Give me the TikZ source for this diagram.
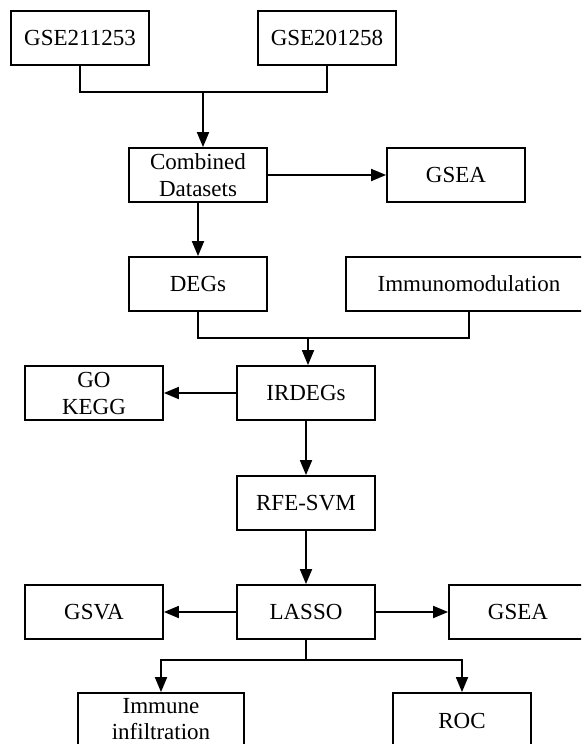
\documentclass[tikz,border=0pt]{standalone}
\usepackage{fontspec}
\setmainfont{Liberation Serif}
\usetikzlibrary{arrows.meta}
\begin{document}
\begin{tikzpicture}[x=1pt,y=-1pt,
  box/.style={draw,line width=1.8pt,minimum width=138pt,minimum height=54pt,inner sep=0pt,align=center,
    font=\fontsize{23}{27}\selectfont},
  conn/.style={line width=1.8pt},
  arr/.style={conn,-{Triangle[length=15pt,width=12pt]}}]
\useasboundingbox (0,0) rectangle (581,744);
\clip (0,0) rectangle (581,744);
\fill[white] (0,0) rectangle (581,744);
\node[box] (g1) at (80,38) {GSE211253};
\node[box] (g2) at (327,38) {GSE201258};
\node[box] (comb) at (198,175) {Combined\\Datasets};
\node[box] (gsea1) at (456,175) {GSEA};
\node[box] (degs) at (198,284) {DEGs};
\node[box,minimum width=246pt] (imm) at (469,284) {Immunomodulation};
\node[box] (go) at (94,393) {GO\\KEGG};
\node[box] (ird) at (306,393) {IRDEGs};
\node[box] (rfe) at (306,503) {RFE-SVM};
\node[box] (gsva) at (94,612) {GSVA};
\node[box] (lasso) at (306,612) {LASSO};
\node[box] (gsea2) at (518,612) {GSEA};
\node[box,minimum width=166pt,minimum height=52pt,font=\fontsize{23}{26}\selectfont] (immune) at (161,719) {Immune\\infiltration};
\node[box,minimum height=56pt] (roc) at (462,721) {ROC};
\coordinate (m1) at (203,92);
\coordinate (m2) at (308,338);
\coordinate (m3) at (306,660);
\draw[conn] (g1.south) |- (m1) -| (g2.south);
\draw[arr] (m1) -- (m1 |- comb.north);
\draw[arr] (comb.east) -- (gsea1.west);
\draw[arr] (comb.south) -- (degs.north);
\draw[conn] (degs.south) |- (m2) -| (imm.south);
\draw[arr] (m2) -- (m2 |- ird.north);
\draw[arr] (ird.west) -- (go.east);
\draw[arr] (ird.south) -- (rfe.north);
\draw[arr] (rfe.south) -- (lasso.north);
\draw[arr] (lasso.west) -- (gsva.east);
\draw[arr] (lasso.east) -- (gsea2.west);
\draw[conn] (lasso.south) -- (m3);
\draw[arr] (m3) -| (immune.north);
\draw[arr] (m3) -| (roc.north);
\end{tikzpicture}
\end{document}
